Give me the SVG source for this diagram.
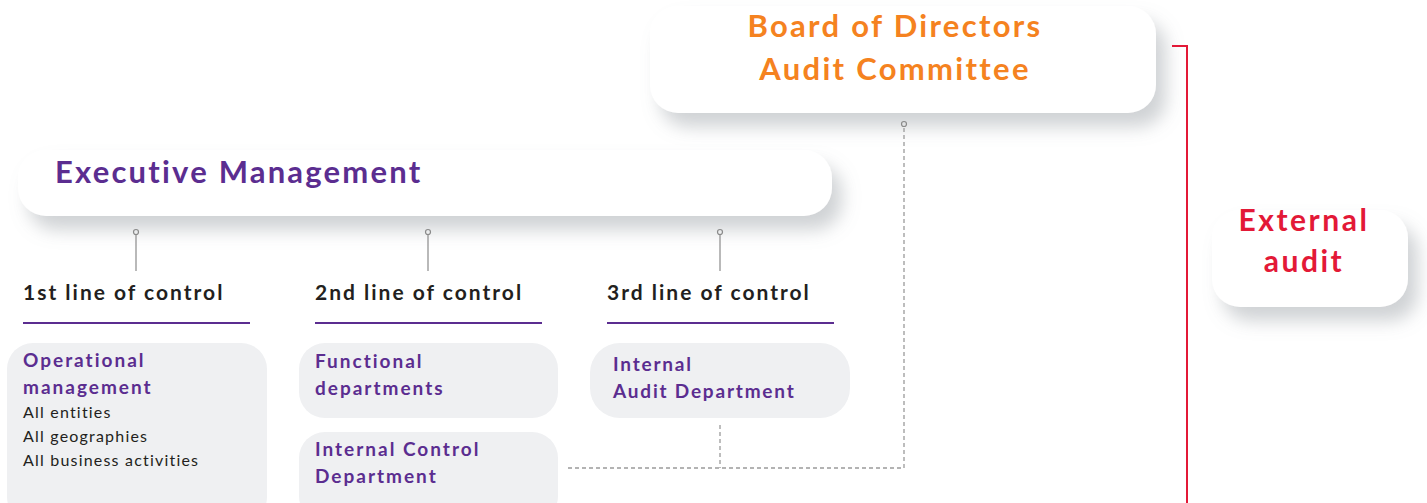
<svg xmlns="http://www.w3.org/2000/svg" width="1427" height="503" viewBox="0 0 1427 503">
<defs>
<filter id="sh" x="-20%" y="-40%" width="140%" height="200%">
<feDropShadow dx="10" dy="14" stdDeviation="9" flood-color="#8f949b" flood-opacity="0.42"/>
</filter>
</defs>
<style>
.card{fill:#ffffff;filter:url(#sh)}
.box{fill:#eff0f2}
.pt{font-family:Lato,"Liberation Sans",sans-serif;font-weight:700;fill:#5b2d90}
.lab{font-family:Lato,"Liberation Sans",sans-serif;font-weight:700;font-size:21px;fill:#231f20;letter-spacing:2px}
.sub{font-family:Lato,"Liberation Sans",sans-serif;font-size:16px;fill:#231f20;letter-spacing:1.2px}
.ul{stroke:#5b2d90;stroke-width:2}
.tick{stroke:#8a8a8a;stroke-width:1.2;fill:none}
.dash{stroke:#9a9a9a;stroke-width:1.3;fill:none;stroke-dasharray:4 3}
.org{font-family:Lato,"Liberation Sans",sans-serif;font-weight:700;font-size:31px;fill:#f58220;letter-spacing:2.3px}
.red{font-family:Lato,"Liberation Sans",sans-serif;font-weight:700;font-size:30px;fill:#e31937;letter-spacing:2.5px}
</style>
<rect width="1427" height="503" fill="#ffffff"/>
<g id="board">
<rect class="card" x="650" y="6" width="506" height="107" rx="28"/>
<text class="org" x="895" y="37" text-anchor="middle">Board of Directors</text>
<text class="org" x="895" y="80" text-anchor="middle">Audit Committee</text>
</g>
<g id="exec">
<rect class="card" x="18" y="150" width="814" height="66" rx="28"/>
<text class="pt" x="55" y="183" font-size="31" letter-spacing="2.2">Executive Management</text>
</g>
<g id="external">
<rect class="card" x="1212" y="210" width="196" height="97" rx="28"/>
<text class="red" x="1304" y="231" text-anchor="middle">External</text>
<text class="red" x="1304" y="272" text-anchor="middle">audit</text>
</g>
<g id="line1">
<text class="lab" x="23" y="300">1st line of control</text>
<line class="ul" x1="23" y1="323" x2="250" y2="323"/>
</g>
<g id="line2">
<text class="lab" x="315" y="300">2nd line of control</text>
<line class="ul" x1="315" y1="323" x2="542" y2="323"/>
</g>
<g id="line3">
<text class="lab" x="607" y="300">3rd line of control</text>
<line class="ul" x1="607" y1="323" x2="834" y2="323"/>
</g>
<g id="operational">
<rect class="box" x="7" y="343" width="260" height="180" rx="26"/>
<text class="pt" x="23" y="367" font-size="19" letter-spacing="2">Operational</text>
<text class="pt" x="23" y="394" font-size="19" letter-spacing="2">management</text>
<text class="sub" x="23" y="418">All entities</text>
<text class="sub" x="23" y="442">All geographies</text>
<text class="sub" x="23" y="466">All business activities</text>
</g>
<g id="functional">
<rect class="box" x="299" y="343" width="259" height="75" rx="26"/>
<text class="pt" x="315" y="368" font-size="19" letter-spacing="2">Functional</text>
<text class="pt" x="315" y="395" font-size="19" letter-spacing="2">departments</text>
</g>
<g id="internalcontrol">
<rect class="box" x="299" y="432" width="259" height="90" rx="26"/>
<text class="pt" x="315" y="456" font-size="19" letter-spacing="2">Internal Control</text>
<text class="pt" x="315" y="483" font-size="19" letter-spacing="2">Department</text>
</g>
<g id="internalaudit">
<rect class="box" x="590" y="343" width="260" height="75" rx="30"/>
<text class="pt" x="613" y="371" font-size="19" letter-spacing="1.8">Internal</text>
<text class="pt" x="613" y="398" font-size="19" letter-spacing="1.8">Audit Department</text>
</g>
<g id="connectors">
<circle class="tick" cx="136" cy="232" r="2.5"/>
<line class="tick" x1="136" y1="234.5" x2="136" y2="271"/>
<circle class="tick" cx="428" cy="232" r="2.5"/>
<line class="tick" x1="428" y1="234.5" x2="428" y2="271"/>
<circle class="tick" cx="720" cy="232" r="2.5"/>
<line class="tick" x1="720" y1="234.5" x2="720" y2="271"/>
<circle class="tick" cx="904" cy="124" r="2.5"/>
<polyline class="dash" points="904,128 904,468 568,468"/>
<line class="dash" x1="720" y1="425" x2="720" y2="468"/>
<polyline points="1172,46 1187,46 1187,503" fill="none" stroke="#e31937" stroke-width="2"/>
</g>
</svg>
